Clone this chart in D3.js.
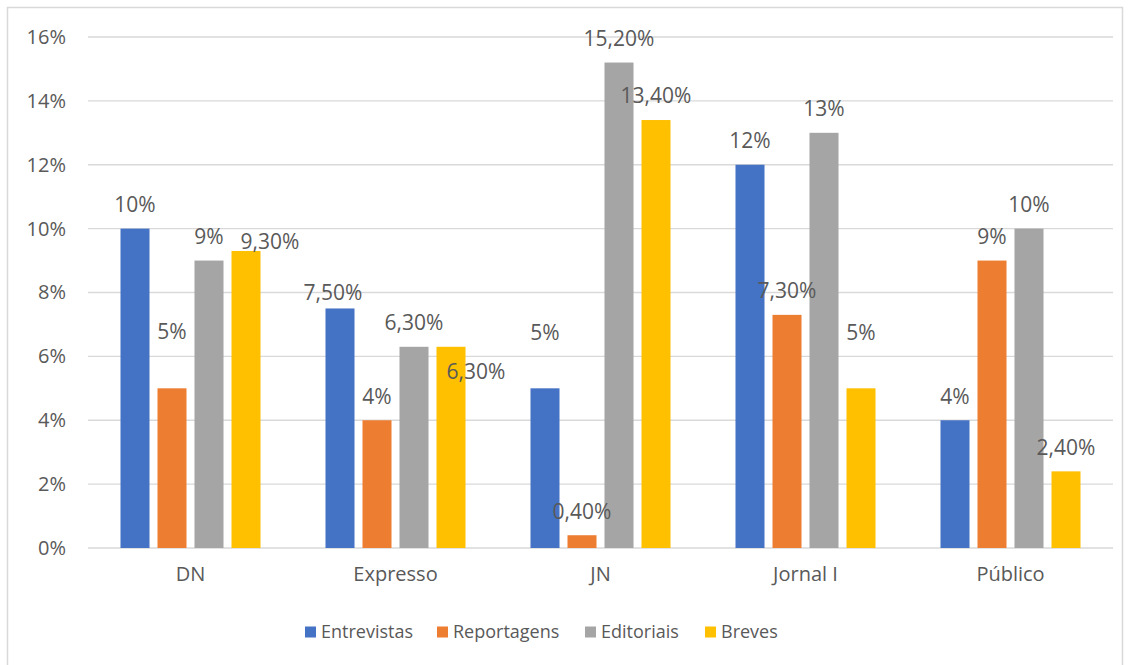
<!DOCTYPE html>
<html>
<head>
<meta charset="utf-8">
<script src="https://cdn.jsdelivr.net/npm/d3@7"></script>
<style>
  body { margin: 0; background: #fff; }
  svg text { font-family: "Open Sans", sans-serif; fill: #595959; }
</style>
</head>
<body>
<svg id="chart" width="1132" height="665"></svg>
<script>
// data
const categories = ["DN", "Expresso", "JN", "Jornal I", "Público"]
const seriesNames = ["Entrevistas", "Reportagens", "Editoriais", "Breves"]
const entrevistas = [10, 7.5, 5, 12, 4]
const reportagens = [5, 4, 0.4, 7.3, 9]
const editoriais = [9, 6.3, 15.2, 13, 10]
const breves = [9.3, 6.3, 13.4, 5, 2.4]
const yTicks = [0, 2, 4, 6, 8, 10, 12, 14, 16]

const colours = ["#4472c4", "#ed7d31", "#a5a5a5", "#ffc000"]

// a few labels were dragged away from the bar top in the original
const labelNudge = {
    "DN|Reportagens": [0, -33],
    "DN|Breves": [24, 15],
    "Expresso|Entrevistas": [-7, 8],
    "Expresso|Breves": [25, 49],
    "JN|Entrevistas": [0, -32],
    "Jornal I|Breves": [0, -32]
}

const allSeries = [entrevistas, reportagens, editoriais, breves]
let rows = []
categories.forEach((c, i) => {
    seriesNames.forEach((s, j) => {
        rows.push({cat: c, series: s, value: allSeries[j][i]})
    })
})

const fmt = v => Number.isInteger(v) ? v + "%" : v.toFixed(2).replace(".", ",") + "%"

let svg = d3.select("#chart")

// outer chart border
svg.append("rect")
    .attr("x", 7.5).attr("y", 7.5)
    .attr("width", 1115).attr("height", 670)
    .attr("fill", "none")
    .attr("stroke", "#d9d9d9")
    .attr("stroke-width", 1.5)

let x = d3.scaleBand()
    .domain(categories)
    .range([88, 1113])
    .paddingInner(0.317)
    .paddingOuter(0.1585)

let xInner = d3.scaleBand()
    .domain(seriesNames)
    .range([0, x.bandwidth()])
    .paddingInner(0.216)

let y = d3.scaleLinear()
    .domain([0, 16])
    .range([548, 37])

let colour = d3.scaleOrdinal().domain(seriesNames).range(colours)

// gridlines
svg.append("g")
    .selectAll("line")
    .data(yTicks)
    .join("line")
    .attr("x1", 88).attr("x2", 1113)
    .attr("y1", d => y(d)).attr("y2", d => y(d))
    .attr("stroke", "#d9d9d9")
    .attr("stroke-width", 1.3)

// y axis labels
let yAxis = d3.axisLeft(y)
    .tickValues(yTicks)
    .tickFormat(d => d + "%")
    .tickSize(0)
    .tickPadding(0)

let yG = svg.append("g")
    .attr("transform", "translate(66,0)")
    .call(yAxis)
yG.select(".domain").remove()
yG.selectAll("text")
    .style("font-size", "20px")
    .attr("fill", "#595959")

// x axis labels
let xAxis = d3.axisBottom(x).tickSize(0).tickPadding(0)
let xG = svg.append("g")
    .attr("transform", "translate(0,567)")
    .call(xAxis)
xG.select(".domain").remove()
xG.selectAll("text")
    .style("font-size", "20px")
    .attr("fill", "#595959")

// bars
svg.append("g")
    .selectAll("rect")
    .data(rows)
    .join("rect")
    .attr("x", d => x(d.cat) + xInner(d.series))
    .attr("y", d => y(d.value))
    .attr("width", xInner.bandwidth())
    .attr("height", d => y(0) - y(d.value))
    .attr("fill", d => colour(d.series))

// data labels
svg.append("g")
    .selectAll("text")
    .data(rows)
    .join("text")
    .attr("x", d => {
        let n = labelNudge[d.cat + "|" + d.series] || [0, 0]
        return x(d.cat) + xInner(d.series) + xInner.bandwidth() / 2 + n[0]
    })
    .attr("y", d => {
        let n = labelNudge[d.cat + "|" + d.series] || [0, 0]
        return y(d.value) - 24 + n[1]
    })
    .attr("dy", "0.35em")
    .attr("text-anchor", "middle")
    .style("font-size", "21px")
    .text(d => fmt(d.value))

// legend
const legendX = [305, 437, 585, 705]
let legend = svg.append("g")
    .selectAll("g")
    .data(seriesNames)
    .join("g")
    .attr("transform", (d, i) => "translate(" + legendX[i] + ",632)")

legend.append("rect")
    .attr("x", 0).attr("y", -5.5)
    .attr("width", 11).attr("height", 11)
    .attr("fill", d => colour(d))

legend.append("text")
    .attr("x", 16)
    .attr("dy", "0.35em")
    .style("font-size", "18px")
    .text(d => d)
</script>
</body>
</html>
